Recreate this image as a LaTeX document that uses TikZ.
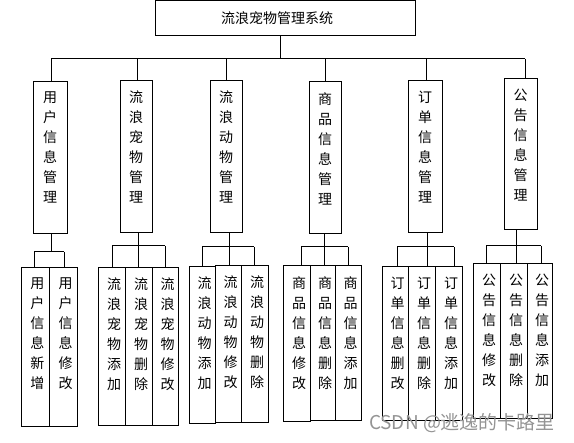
\documentclass[tikz,border=0pt]{standalone}
\usepackage{fontspec}
\newfontfamily\cjk{Noto Sans CJK SC}
\usetikzlibrary{calc}
\newcommand\mkbox[5]{\node[box, minimum width={(#3-#2)*1pt}, minimum height={(#5-#4)*1pt}] (#1) at ({(#2+#3)/2},{(#4+#5)/2}) {};}
\begin{document}
\begin{tikzpicture}[x=1pt,y=-1pt,
  box/.style={draw, line width=1pt, inner sep=0pt, outer sep=0pt},
  ln/.style={line width=1pt},
  vt/.style={font=\cjk\fontsize{14}{20}\selectfont, align=center, inner sep=0pt, anchor=north},
  wm/.style={font=\cjk\fontsize{19}{20}\selectfont, text=black!42, inner sep=0pt}
]
\useasboundingbox (0,0) rectangle (574,443);
\fill[white] (0,0) rectangle (574,443);

% top
\mkbox{top}{155}{415}{1}{36}
\node[font=\cjk\fontsize{14}{16}\selectfont, inner sep=0pt] (title) at (277,18) {流浪宠物管理系统};

% level 1
\mkbox{b1}{33}{67}{82}{234}
\mkbox{b2}{120}{152}{81}{233}
\mkbox{b3}{210}{242}{81}{233}
\mkbox{b4}{309}{341}{82}{234}
\mkbox{b5}{408}{442}{81}{233}
\mkbox{b6}{504}{537}{79}{230}

\node[vt] (tb1) at ($(b1.north)+(0,10)$) {用\\户\\信\\息\\管\\理};
\node[vt] (tb2) at ($(b2.north)+(0,10)$) {流\\浪\\宠\\物\\管\\理};
\node[vt] (tb3) at ($(b3.north)+(0,10)$) {流\\浪\\动\\物\\管\\理};
\node[vt] (tb4) at ($(b4.north)+(0,10)$) {商\\品\\信\\息\\管\\理};
\node[vt] (tb5) at ($(b5.north)+(0,10)$) {订\\单\\信\\息\\管\\理};
\node[vt] (tb6) at ($(b6.north)+(0,10)$) {公\\告\\信\\息\\管\\理};

% level 2
\mkbox{c11}{21}{49}{268}{427}
\mkbox{c12}{49}{77}{268}{427}
\mkbox{c21}{98}{125}{268}{426}
\mkbox{c22}{125}{152}{268}{426}
\mkbox{c23}{152}{178}{268}{426}
\mkbox{c31}{189}{215}{267}{424}
\mkbox{c32}{215}{241}{266}{423}
\mkbox{c33}{241}{268}{266}{423}
\mkbox{c41}{283}{310}{266}{422}
\mkbox{c42}{310}{335}{266}{421}
\mkbox{c43}{335}{361}{266}{421}
\mkbox{c51}{382}{408}{267}{421}
\mkbox{c52}{408}{435}{267}{421}
\mkbox{c53}{435}{462}{267}{421}
\mkbox{c61}{473}{500}{264}{419}
\mkbox{c62}{500}{527}{264}{419}
\mkbox{c63}{527}{552}{264}{419}

\node[vt] (tc11) at ($(c11.north)+(2.5,10)$) {用\\户\\信\\息\\新\\增};
\node[vt] (tc12) at ($(c12.north)+(2.5,10)$) {用\\户\\信\\息\\修\\改};
\node[vt] (tc21) at ($(c21.north)+(2.5,10)$) {流\\浪\\宠\\物\\添\\加};
\node[vt] (tc22) at ($(c22.north)+(2.5,10)$) {流\\浪\\宠\\物\\删\\除};
\node[vt] (tc23) at ($(c23.north)+(2.5,10)$) {流\\浪\\宠\\物\\修\\改};
\node[vt] (tc31) at ($(c31.north)+(2.5,10)$) {流\\浪\\动\\物\\添\\加};
\node[vt] (tc32) at ($(c32.north)+(2.5,10)$) {流\\浪\\动\\物\\修\\改};
\node[vt] (tc33) at ($(c33.north)+(2.5,10)$) {流\\浪\\动\\物\\删\\除};
\node[vt] (tc41) at ($(c41.north)+(2.5,10)$) {商\\品\\信\\息\\修\\改};
\node[vt] (tc42) at ($(c42.north)+(2.5,10)$) {商\\品\\信\\息\\删\\除};
\node[vt] (tc43) at ($(c43.north)+(2.5,10)$) {商\\品\\信\\息\\添\\加};
\node[vt] (tc51) at ($(c51.north)+(2.5,10)$) {订\\单\\信\\息\\删\\改};
\node[vt] (tc52) at ($(c52.north)+(2.5,10)$) {订\\单\\信\\息\\删\\除};
\node[vt] (tc53) at ($(c53.north)+(2.5,10)$) {订\\单\\信\\息\\添\\加};
\node[vt] (tc61) at ($(c61.north)+(2.5,10)$) {公\\告\\信\\息\\修\\改};
\node[vt] (tc62) at ($(c62.north)+(2.5,10)$) {公\\告\\信\\息\\删\\除};
\node[vt] (tc63) at ($(c63.north)+(2.5,10)$) {公\\告\\信\\息\\添\\加};

% top connectors
\coordinate (j0) at (280,59);
\coordinate (v1) at (51,59);
\coordinate (v2) at (137,59);
\coordinate (v3) at (226,59);
\coordinate (v4) at (325,59);
\coordinate (v5) at (426,59);
\coordinate (v6) at (525,59);
\draw[ln] (j0 |- top.south) -- (j0);
\draw[ln] (v1) -- (v6);
\foreach \i in {1,...,6} { \draw[ln] (v\i) -- (v\i |- b\i.north); }

% group 1
\coordinate (p1) at (51,252);
\coordinate (l1) at (34,252);
\coordinate (r1) at (64,252);
\draw[ln] (p1 |- b1.south) -- (p1);
\draw[ln] (l1) -- (r1);
\draw[ln] (l1) -- (l1 |- c11.north);
\draw[ln] (r1) -- (r1 |- c12.north);

% group 2
\coordinate (p2) at (138,246);
\coordinate (l2) at (112,246);
\coordinate (r2) at (165,246);
\draw[ln] (p2 |- b2.south) -- (p2 |- c22.north);
\draw[ln] (l2) -- (r2);
\draw[ln] (l2) -- (l2 |- c21.north);
\draw[ln] (r2) -- (r2 |- c23.north);

% group 3
\coordinate (p3) at (229,247);
\coordinate (l3) at (202,247);
\coordinate (r3) at (254,247);
\draw[ln] (p3 |- b3.south) -- (p3 |- c32.north);
\draw[ln] (l3) -- (r3);
\draw[ln] (l3) -- (l3 |- c31.north);
\draw[ln] (r3) -- (r3 |- c33.north);

% group 4
\coordinate (p4) at (324,247);
\coordinate (l4) at (301,247);
\coordinate (r4) at (348,247);
\draw[ln] (p4 |- b4.south) -- (p4 |- c42.north);
\draw[ln] (l4) -- (r4);
\draw[ln] (l4) -- (l4 |- c41.north);
\draw[ln] (r4) -- (r4 |- c43.north);

% group 5
\coordinate (p5) at (427,247);
\coordinate (l5) at (397,247);
\coordinate (r5) at (454,247);
\draw[ln] (p5 |- b5.south) -- (p5 |- c52.north);
\draw[ln] (l5) -- (r5);
\draw[ln] (l5) -- (l5 |- c51.north);
\draw[ln] (r5) -- (r5 |- c53.north);

% group 6
\coordinate (p6) at (516,246);
\coordinate (l6) at (486,246);
\coordinate (r6) at (541,246);
\draw[ln] (p6 |- b6.south) -- (p6 |- c62.north);
\draw[ln] (l6) -- (r6);
\draw[ln] (l6) -- (l6 |- c61.north);
\draw[ln] (r6) -- (r6 |- c63.north);

% watermark
\node[wm] (wmark) at (462,423) {CSDN @逃逸的卡路里};
\end{tikzpicture}
\end{document}
